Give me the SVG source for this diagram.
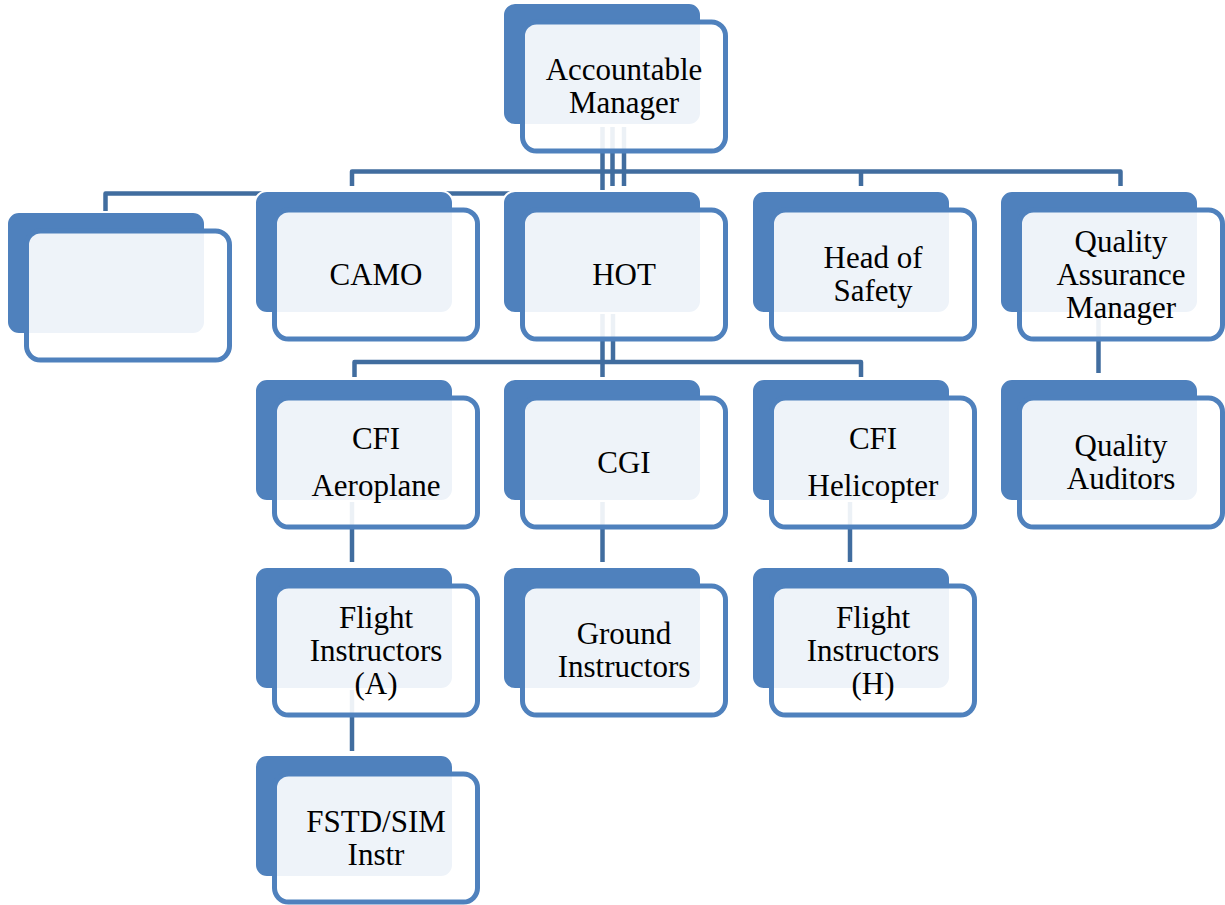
<svg xmlns="http://www.w3.org/2000/svg" width="1225" height="905" viewBox="0 0 1225 905">
<style>
.bk{fill:#4F81BD;stroke:#fff;stroke-width:2}
.fr{fill:#fff;fill-opacity:0.9;stroke:#4F81BD;stroke-width:5}
.cn{fill:none;stroke:#416D9F;stroke-width:4.5;stroke-linejoin:round}
text{font-family:"Liberation Serif","Times New Roman",serif;font-size:31px;fill:#000;text-anchor:middle}
</style>
<rect width="1225" height="905" fill="#fff"/>
<g id="connectors">
<path class="cn" d="M602.5 127 V195 M612.5 127 V186 M624 127 V186"/>
<path class="cn" d="M352 186 V171.5 H1120.5 V186 M861 171.5 V186"/>
<path class="cn" d="M602.5 193.5 H105.5 V212"/>
<path class="cn" d="M602.5 313 V377 M613 313 V362"/>
<path class="cn" d="M354.5 377 V362 H861 V377"/>
<path class="cn" d="M352 501 V562"/>
<path class="cn" d="M602.5 501 V562"/>
<path class="cn" d="M850 501 V562"/>
<path class="cn" d="M1098.5 313 V373"/>
<path class="cn" d="M352 689 V751"/>
</g>
<g id="n-am"><rect class="bk" x="503" y="3" width="198" height="122" rx="12"/><rect class="fr" x="522.5" y="22" width="203" height="129" rx="14"/><text x="624" y="80">Accountable</text><text x="624" y="113">Manager</text></g>
<g id="n-blank"><rect class="bk" x="7" y="212" width="198" height="122" rx="12"/><rect class="fr" x="26.5" y="231" width="203" height="129" rx="14"/></g>
<g id="n-camo"><rect class="bk" x="255" y="191" width="198" height="122" rx="12"/><rect class="fr" x="274.5" y="210" width="203" height="129" rx="14"/><text x="376" y="284.5">CAMO</text></g>
<g id="n-hot"><rect class="bk" x="503" y="191" width="198" height="122" rx="12"/><rect class="fr" x="522.5" y="210" width="203" height="129" rx="14"/><text x="624" y="284.5">HOT</text></g>
<g id="n-hos"><rect class="bk" x="752" y="191" width="198" height="122" rx="12"/><rect class="fr" x="771.5" y="210" width="203" height="129" rx="14"/><text x="873" y="268">Head of</text><text x="873" y="301">Safety</text></g>
<g id="n-qam"><rect class="bk" x="1000" y="191" width="198" height="122" rx="12"/><rect class="fr" x="1019.5" y="210" width="203" height="129" rx="14"/><text x="1121" y="251.5">Quality</text><text x="1121" y="284.5">Assurance</text><text x="1121" y="317.5">Manager</text></g>
<g id="n-cfia"><rect class="bk" x="255" y="379" width="198" height="122" rx="12"/><rect class="fr" x="274.5" y="398" width="203" height="129" rx="14"/><text x="376" y="449">CFI</text><text x="376" y="496">Aeroplane</text></g>
<g id="n-cgi"><rect class="bk" x="503" y="379" width="198" height="122" rx="12"/><rect class="fr" x="522.5" y="398" width="203" height="129" rx="14"/><text x="624" y="472.5">CGI</text></g>
<g id="n-cfih"><rect class="bk" x="752" y="379" width="198" height="122" rx="12"/><rect class="fr" x="771.5" y="398" width="203" height="129" rx="14"/><text x="873" y="449">CFI</text><text x="873" y="496">Helicopter</text></g>
<g id="n-qa"><rect class="bk" x="1000" y="379" width="198" height="122" rx="12"/><rect class="fr" x="1019.5" y="398" width="203" height="129" rx="14"/><text x="1121" y="456">Quality</text><text x="1121" y="489">Auditors</text></g>
<g id="n-fia"><rect class="bk" x="255" y="567" width="198" height="122" rx="12"/><rect class="fr" x="274.5" y="586" width="203" height="129" rx="14"/><text x="376" y="627.5">Flight</text><text x="376" y="660.5">Instructors</text><text x="376" y="693.5">(A)</text></g>
<g id="n-gi"><rect class="bk" x="503" y="567" width="198" height="122" rx="12"/><rect class="fr" x="522.5" y="586" width="203" height="129" rx="14"/><text x="624" y="644">Ground</text><text x="624" y="677">Instructors</text></g>
<g id="n-fih"><rect class="bk" x="752" y="567" width="198" height="122" rx="12"/><rect class="fr" x="771.5" y="586" width="203" height="129" rx="14"/><text x="873" y="627.5">Flight</text><text x="873" y="660.5">Instructors</text><text x="873" y="693.5">(H)</text></g>
<g id="n-fstd"><rect class="bk" x="255" y="755" width="198" height="122" rx="12"/><rect class="fr" x="274.5" y="774" width="203" height="128" rx="14"/><text x="376" y="832">FSTD/SIM</text><text x="376" y="865">Instr</text></g>
</svg>
